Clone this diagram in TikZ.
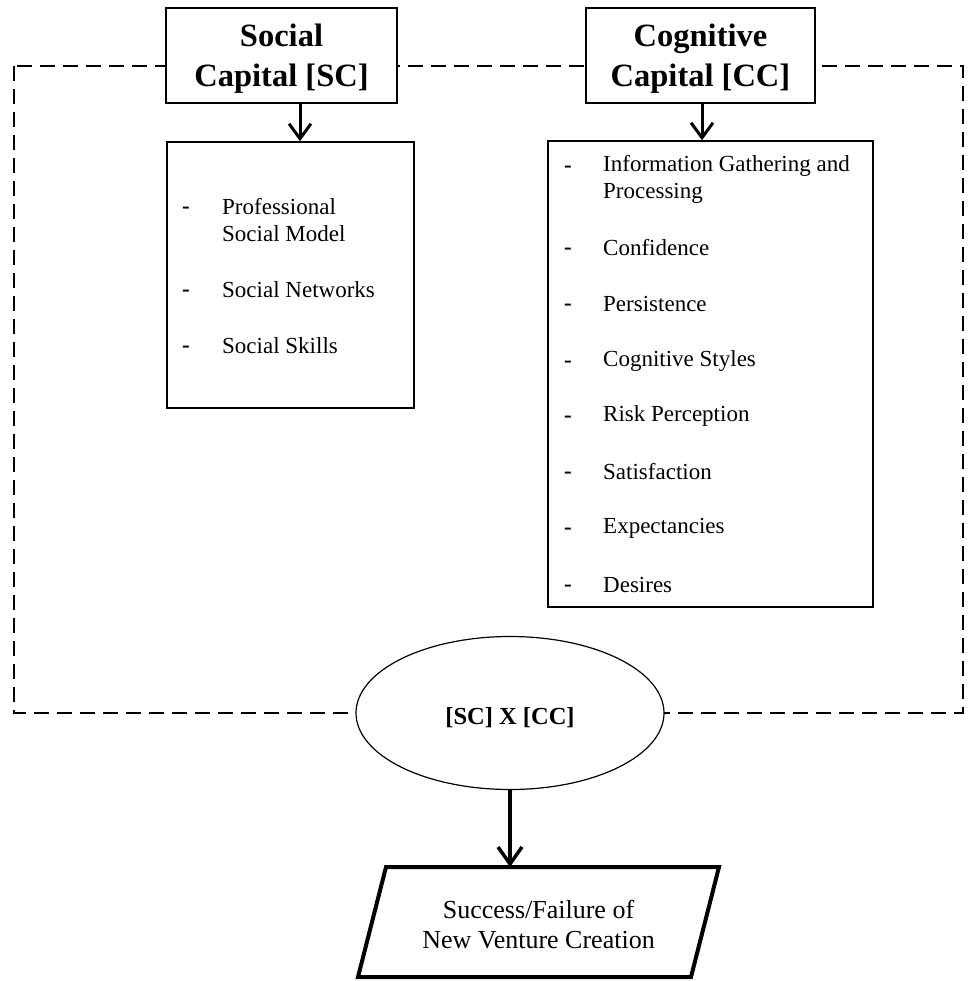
\documentclass[tikz,border=0pt]{standalone}
\usepackage{fontspec}
\setmainfont{Liberation Serif}
\usetikzlibrary{arrows.meta,shapes.geometric}
\begin{document}
\begin{tikzpicture}[x=1pt,y=-1pt,
  titlebox/.style={draw, line width=2pt, fill=white, minimum height=95pt, inner sep=0pt},
  titletext/.style={align=center, inner sep=0pt, font=\fontsize{32.5}{40}\selectfont\bfseries},
  listbox/.style={draw, line width=1.5pt, fill=white, inner sep=0pt},
  item/.style={anchor=west, align=left, inner sep=0pt, font=\fontsize{23}{27}\selectfont},
  dashmk/.style={inner sep=0pt, font=\fontsize{23}{27}\selectfont\bfseries},
  arr/.style={line width=3pt, -{Straight Barb[length=15pt,width=22pt]}},
  frame/.style={line width=1.5pt, dash pattern=on 15pt off 8pt},
  prod/.style={ellipse, draw, line width=1.2pt, fill=white, minimum width=308pt, minimum height=153pt, inner sep=0pt},
  prodtext/.style={inner sep=0pt, font=\fontsize{24.5}{29}\selectfont\bfseries},
  outtext/.style={align=center, inner sep=0pt, font=\fontsize{26}{30}\selectfont}
]
\useasboundingbox (0,0) rectangle (968,981);
% dashed frame
\draw[frame] (14,66) rectangle (963,713);
% title boxes
\node[titlebox, minimum width=231pt] (sct) at (281.5,55.5) {};
\node[titletext] (sctt) at ([yshift=-3pt]sct.center) {Social\\Capital [SC]};
\node[titlebox, minimum width=229pt] (cct) at (700.5,55.5) {};
\node[titletext] (cctt) at ([yshift=-3pt]cct.center) {Cognitive\\Capital [CC]};
% list boxes
\node[listbox, minimum width=247pt, minimum height=266pt] (scl) at (290.5,275) {};
\node[listbox, minimum width=325pt, minimum height=466pt] (ccl) at (710.5,374) {};
% arrows to list boxes
\draw[arr] ([xshift=18.5pt]sct.south) -- ([xshift=18.5pt]sct.south |- scl.north);
\draw[arr] ([xshift=1.5pt]cct.south) -- ([xshift=1.5pt]cct.south |- ccl.north);
% SC items
\node[dashmk] (sd1) at (186,210) {-};
\node[item] (si1) at (222,220.5) {Professional\\Social Model};
\node[dashmk] (sd2) at (186,293) {-};
\node[item] (si2) at (222,290) {Social Networks};
\node[dashmk] (sd3) at (186,349) {-};
\node[item] (si3) at (222,346) {Social Skills};
% CC items
\node[dashmk] (cd1) at (568,169) {-};
\node[item] (ci1) at (603,179.5) {Information Gathering and\\Processing};
\node[dashmk] (cd2) at (568,251) {-};
\node[item] (ci2) at (603,248) {Confidence};
\node[dashmk] (cd3) at (568,307) {-};
\node[item] (ci3) at (603,304) {Persistence};
\node[dashmk] (cd4) at (568,364) {-};
\node[item] (ci4) at (603,361) {Cognitive Styles};
\node[dashmk] (cd5) at (568,419) {-};
\node[item] (ci5) at (603,416) {Risk Perception};
\node[dashmk] (cd6) at (568,475) {-};
\node[item] (ci6) at (603,472) {Satisfaction};
\node[dashmk] (cd7) at (568,531) {-};
\node[item] (ci7) at (603,528) {Expectancies};
\node[dashmk] (cd8) at (568,588) {-};
\node[item] (ci8) at (603,585) {Desires};
% product ellipse
\node[prod] (ell) at (510,713) {};
\node[prodtext] (ellt) at ([yshift=-5pt]ell.center) {[SC] X [CC]};
% outcome parallelogram
\coordinate (ptl) at (386,867);
\coordinate (ptr) at (719,867);
\coordinate (pbr) at (691,977);
\coordinate (pbl) at (358,977);
\coordinate (ptop) at (510,867);
\draw[line width=4pt, line join=miter] (ptl) -- (ptr) -- (pbr) -- (pbl) -- cycle;
\node[outtext] (out) at (538.5,925) {Success/Failure of\\New Venture Creation};
\draw[line width=3.5pt, -{Straight Barb[length=17pt,width=24pt]}] (ell.south) -- (ptop);
\end{tikzpicture}
\end{document}
